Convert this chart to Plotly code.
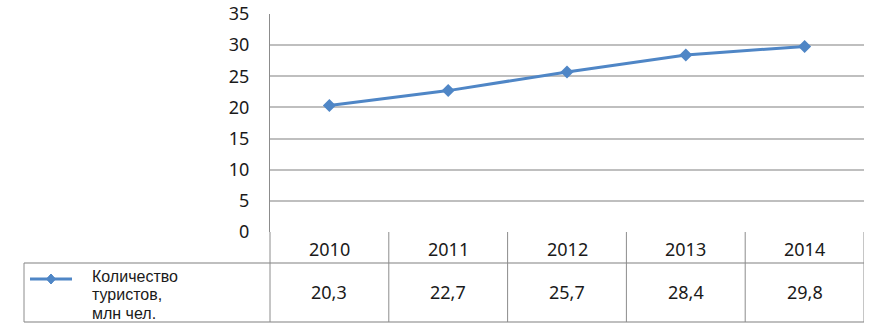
import plotly.graph_objects as go

years = ["2010", "2011", "2012", "2013", "2014"]
tourists = [20.3, 22.7, 25.7, 28.4, 29.8]
series_name_lines = ["Количество", "туристов,", "млн чел."]
y_ticks = [0, 5, 10, 15, 20, 25, 30, 35]

LINE_COLOR = "#4F86C6"
GRID = "#BFBFBF"
BORDER = "#8C8C8C"
TICK_FONT = dict(family="Noto Sans", size=18, color="#1A1A1A")

W, H = 884, 329
ML, MR, MT, MB = 270, 20, 14, 97
PW = W - ML - MR
PH = H - MT - MB


def px_x(px):
    return (px - ML) / PW


def px_y(py):
    return (H - MB - py) / PH


xs = list(range(len(years)))

fig = go.Figure()
fig.add_trace(go.Scatter(
    x=xs, y=tourists, mode="lines+markers",
    line=dict(color=LINE_COLOR, width=3),
    marker=dict(symbol="diamond", size=10, color=LINE_COLOR),
    showlegend=False, hoverinfo="skip", cliponaxis=False,
))

shapes = []
row1 = px_y(263)
row2 = px_y(322)
# horizontal table lines
shapes.append(dict(type="line", xref="paper", yref="paper", x0=px_x(24), x1=1, y0=row1, y1=row1,
                   line=dict(color=GRID, width=2)))
shapes.append(dict(type="line", xref="paper", yref="paper", x0=px_x(24), x1=1, y0=row2, y1=row2,
                   line=dict(color=GRID, width=2)))
# left axis extension and legend cell left border
shapes.append(dict(type="line", xref="paper", yref="paper", x0=0, x1=0, y0=0, y1=row2,
                   line=dict(color=BORDER, width=1)))
shapes.append(dict(type="line", xref="paper", yref="paper", x0=px_x(24), x1=px_x(24), y0=row1, y1=row2,
                   line=dict(color=BORDER, width=1)))
# vertical column separators
for i in range(len(years)):
    xb = i + 0.5
    shapes.append(dict(type="line", xref="x", yref="paper", x0=xb, x1=xb, y0=0, y1=row2,
                       line=dict(color=BORDER, width=1)))
# legend sample line
ly = px_y(279)
shapes.append(dict(type="line", xref="paper", yref="paper", x0=px_x(30), x1=px_x(72), y0=ly, y1=ly,
                   line=dict(color=LINE_COLOR, width=3)))
cx = px_x(51)
dx = 4.5 / PW
dy = 5 / PH
shapes.append(dict(type="path", xref="paper", yref="paper",
                   path=f"M {cx-dx} {ly} L {cx} {ly+dy} L {cx+dx} {ly} L {cx} {ly-dy} Z",
                   fillcolor=LINE_COLOR, line=dict(color=LINE_COLOR, width=1)))

annotations = []
for i, (yr, v) in enumerate(zip(years, tourists)):
    annotations.append(dict(x=i, y=px_y(249), xref="x", yref="paper", text=yr, showarrow=False,
                            font=TICK_FONT, xanchor="center", yanchor="middle"))
    annotations.append(dict(x=i, y=px_y(292), xref="x", yref="paper",
                            text=f"{v:.1f}".replace(".", ","), showarrow=False,
                            font=TICK_FONT, xanchor="center", yanchor="middle"))
for k, line in enumerate(series_name_lines):
    annotations.append(dict(x=px_x(91), y=px_y(276 + 18.5 * k), xref="paper", yref="paper",
                            text=line, showarrow=False, align="left", xanchor="left",
                            yanchor="middle", borderpad=0,
                            font=dict(family="Liberation Sans", size=16, color="#1A1A1A")))

fig.update_layout(
    width=W, height=H,
    margin=dict(l=ML, r=MR, t=MT, b=MB, autoexpand=False),
    paper_bgcolor="white", plot_bgcolor="white",
    xaxis=dict(range=[-0.5, len(years) - 0.5], showticklabels=False, showgrid=False,
               zeroline=False, showline=False, fixedrange=True, automargin=False),
    yaxis=dict(range=[0, 35], tickvals=y_ticks, ticktext=[str(t) for t in y_ticks],
               showgrid=True, gridcolor=GRID, gridwidth=2, zeroline=False,
               showline=True, linecolor=BORDER, linewidth=1,
               ticks="outside", ticklen=16, tickcolor="rgba(0,0,0,0)",
               tickfont=TICK_FONT, fixedrange=True, automargin=False),
    shapes=shapes,
    annotations=annotations,
)

fig.write_html(
    "out.html",
    config={"displayModeBar": False},
    post_script="document.body.style.margin='0';document.body.style.overflow='hidden';",
)
